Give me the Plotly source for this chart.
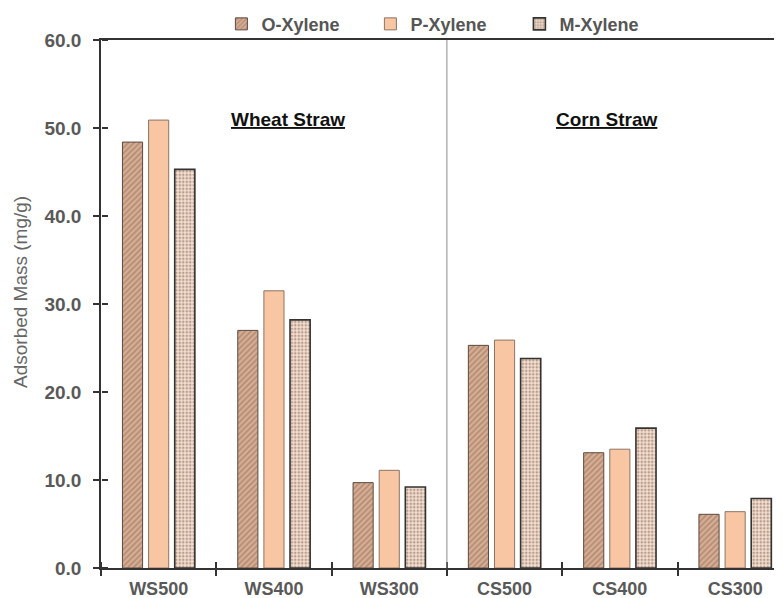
import plotly.graph_objects as go

categories = ["WS500", "WS400", "WS300", "CS500", "CS400", "CS300"]
o_xylene = [48.4, 27.0, 9.7, 25.3, 13.1, 6.1]
p_xylene = [50.9, 31.5, 11.1, 25.9, 13.5, 6.4]
m_xylene = [45.3, 28.2, 9.2, 23.8, 15.9, 7.9]
y_ticks = [0, 10, 20, 30, 40, 50, 60]
y_tick_labels = ["0.0", "10.0", "20.0", "30.0", "40.0", "50.0", "60.0"]
group_labels = ["Wheat Straw", "Corn Straw"]
y_title = "Adsorbed Mass (mg/g)"

# the page body has an 8px margin, so the figure is sized/offset accordingly
W, H = 774, 590
L, T, B = 93, 32, 30
plot_w = W - L
plot_h = H - T - B
cat_w = 115.3
x_max = -0.5 + plot_w / cat_w

fig = go.Figure()
fig.add_trace(go.Bar(
    x=categories, y=o_xylene, name="O-Xylene",
    marker=dict(color="#d0a88e",
                pattern=dict(shape="/", fgcolor="#956549", bgcolor="#d4ae96", size=4, solidity=0.4),
                line=dict(color="#5a4a40", width=1)),
))
fig.add_trace(go.Bar(
    x=categories, y=p_xylene, name="P-Xylene",
    marker=dict(color="#f8c6a2", line=dict(color="#8c7464", width=1)),
))
fig.add_trace(go.Bar(
    x=categories, y=m_xylene, name="M-Xylene",
    marker=dict(color="#f0d6c4",
                pattern=dict(shape=".", fgcolor="#7a5a48", bgcolor="#f4dfd0", size=3.5, solidity=0.45),
                line=dict(color="#333333", width=1.6)),
))
# transparent trace to host the free axes that draw the inner halves of the crossing ticks
fig.add_trace(go.Scatter(x=categories, y=[0]*len(categories), xaxis="x2", yaxis="y2",
                         mode="markers", marker=dict(opacity=0), showlegend=False, hoverinfo="skip"))

fig.update_layout(
    width=W, height=H,
    margin=dict(l=L, r=0, t=T, b=B, autoexpand=False),
    paper_bgcolor="white", plot_bgcolor="white",
    barmode="group", bargap=0.32, bargroupgap=0.23,
    font=dict(family="Liberation Sans, Arial, sans-serif", color="#595959"),
    legend=dict(orientation="h", x=0.505, xanchor="center", y=1.03, yanchor="middle",
                font=dict(size=18, color="#555555", family="Liberation Sans, Arial, sans-serif", weight="bold"),
                entrywidth=104, itemwidth=30, bgcolor="rgba(0,0,0,0)", tracegroupgap=0),
    xaxis=dict(type="category", range=[-0.5, x_max], tickson="boundaries", automargin=False,
               ticks="outside", ticklen=6, tickwidth=1.5, tickcolor="#333333", ticklabelstandoff=4,
               showline=True, linecolor="#333333", linewidth=1.5, mirror=True,
               showgrid=False, zeroline=False,
               tickfont=dict(size=18, color="#595959", weight="bold")),
    yaxis=dict(range=[0, 60], tickvals=y_ticks, ticktext=y_tick_labels, automargin=False,
               ticks="outside", ticklen=6, tickwidth=1.5, tickcolor="#333333", ticklabelstandoff=8,
               showline=True, linecolor="#333333", linewidth=1.5,
               showgrid=False, zeroline=False,
               tickfont=dict(size=19, color="#595959", weight="bold")),
    xaxis2=dict(type="category", overlaying="x", range=[-0.5, x_max], tickson="boundaries", automargin=False,
                categoryorder="array", categoryarray=categories,
                anchor="free", position=0, side="top",
                ticks="outside", ticklen=6, tickwidth=1.5, tickcolor="#333333",
                showticklabels=False, showline=False, showgrid=False, zeroline=False),
    yaxis2=dict(overlaying="y", range=[0, 60], tickvals=y_ticks, automargin=False,
                anchor="free", position=0, side="right",
                ticks="outside", ticklen=6, tickwidth=1.5, tickcolor="#333333",
                showticklabels=False, showline=False, showgrid=False, zeroline=False),
)

# divider between the two straw groups (category boundary)
fig.add_shape(type="line", xref="x", yref="paper", x0=2.5, x1=2.5, y0=0, y1=1,
              line=dict(color="#8a8a8a", width=1))

for label, xc, dx in zip(group_labels, [1, 4], [14, -13]):
    fig.add_annotation(x=xc, y=51.0, xref="x", yref="y", xshift=dx, text=f"<u>{label}</u>", showarrow=False,
                       font=dict(size=19, color="#111111", weight="bold"))

# y axis title (placed as the reference shows it, slightly above the plot centre)
fig.add_annotation(x=(12 - L) / plot_w, y=1 - (284 - T) / plot_h, xref="paper", yref="paper",
                   xanchor="center", yanchor="middle",
                   text=y_title, textangle=-90, showarrow=False,
                   font=dict(size=19, color="#666666"))

fig.write_html("out.html")
